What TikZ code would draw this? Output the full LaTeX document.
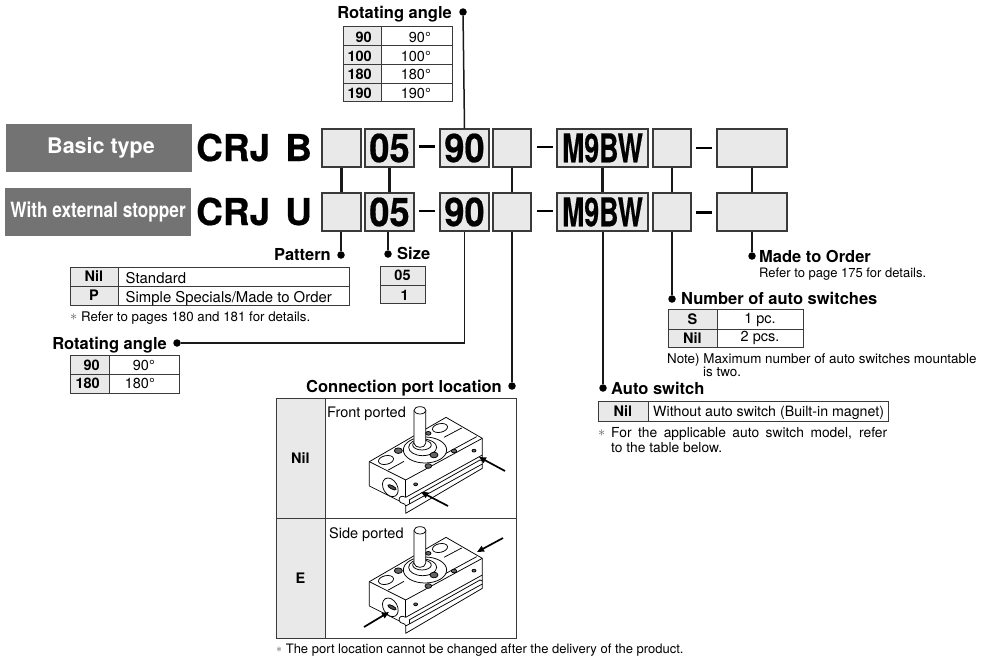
\documentclass[tikz,border=0pt]{standalone}
\usepackage{fontspec}
\setmainfont{TeX Gyre Heros}
\newfontfamily\heavyfont[FakeBold=0.5]{TeX Gyre Heros Bold}
\usetikzlibrary{arrows.meta}
\definecolor{cellgray}{HTML}{E8E9E8}
\definecolor{edgegray}{HTML}{3A3A3A}
\definecolor{bandgray}{HTML}{737373}
\newcommand{\fs}[1]{\fontsize{#1}{#1}\selectfont}
\newcommand{\tcell}[7]{\pgfmathsetmacro\cellx{(#2+#4)/2}\pgfmathsetmacro\celly{(#3+#5)/2}\pgfmathsetmacro\cellw{#4-#2}\pgfmathsetmacro\cellh{#5-#3}\node[#6,minimum width=\cellw pt,minimum height=\cellh pt] (#1) at (\cellx,\celly) {#7};}
\newcommand{\astr}{{\color{black!65}\raisebox{0.3pt}{$\ast$}}}
\newcommand{\tallc}[1]{\scalebox{0.98}[1.07]{#1}}
\newcommand{\tallm}[1]{\scalebox{0.72}[1.07]{#1}}
\newcommand{\actuator}[1]{%
\begin{scope}[shift={#1},x=0.3333pt,y=-0.3333pt,line width=0.75pt,line join=round,draw=black]
 % body silhouette
 \fill[white] (28,185) -- (258,52) -- (367,115) -- (367,205) -- (137,340) -- (137,320) -- (118,305) -- (28,258) -- cycle;
 \draw (28,258) -- (28,185) -- (258,52) -- (367,115) -- (367,205) -- (137,340) -- (137,318);
 \draw (28,185) -- (137,240) -- (367,115);
 \draw (28,258) -- (118,303);
 % notch
 \draw (137,292) .. controls (124,284) and (114,292) .. (118,303) .. controls (121,312) and (137,308) .. (137,318);
 \draw (137,240) -- (137,292);
 % right face and rail
 \draw (137,292) -- (367,165);
 \draw (147,300) -- (360,180) -- (367,183);
 \draw (147,300) -- (147,313);
 \draw (137,318) -- (367,192);
 % top plate lines
 \draw (85,210) -- (132,184);
 \draw (252,112) -- (305,84);
 \draw (258,160) -- (350,110);
 % pads
 \draw[fill=white,rotate around={12:(78,180)}] (78,180) ellipse [x radius=23,y radius=13];
 \draw[fill=white,rotate around={12:(240,84)}] (240,84) ellipse [x radius=23,y radius=13];
 % flange
 \draw[fill=white] (195,150) ellipse [x radius=65,y radius=39];
 \draw[fill=white] (188,142) ellipse [x radius=42,y radius=25];
 \draw[fill=white] (186,135) ellipse [x radius=28,y radius=15];
 % shaft
 \draw[fill=white] (162,32) -- (162,130) .. controls (165,146) and (195,146) .. (197,130) -- (197,32) -- cycle;
 \draw[fill=white] (180,31) ellipse [x radius=18,y radius=11];
 % screw holes
 \foreach \hx/\hy/\hr in {115/152/12,222/165/12,205/100/8,205/198/10,282/153/8,342/152/6,167/253/6}{
   \draw[fill=black!60] (\hx,\hy) ellipse [x radius=\hr,y radius=0.7*\hr];
 }
 % port
 \draw[fill=white,rotate around={30:(91,262)}] (91,262) ellipse [x radius=21,y radius=30];
 \draw[fill=black!70,rotate around={-28:(96,262)}] (96,262) ellipse [x radius=14,y radius=5];
\end{scope}}
\tikzset{
 codebox/.style={draw=edgegray,fill=cellgray,line width=1.2pt,inner sep=0pt,minimum height=38pt,font=\fs{37}\heavyfont},
 bandbox/.style={fill=bandgray,text=white,inner sep=0pt,font=\fs{21.5}\bfseries},
 bigtxt/.style={inner sep=0pt,anchor=base west,font=\fs{37}\heavyfont},
 lbl/.style={inner sep=0pt,font=\fs{16.5}\bfseries},
 cellg/.style={draw=edgegray,fill=cellgray,line width=0.9pt,inner sep=0pt,text height=10.5pt,text depth=0pt,font=\fs{14.5}\bfseries},
 cellw/.style={draw=edgegray,fill=white,line width=0.9pt,inner sep=0pt,text height=10.5pt,text depth=0pt,font=\fs{14.5}},
 bcell/.style={inner sep=0pt,font=\fs{14.5}\bfseries},
 rcell/.style={inner sep=0pt,font=\fs{14.5}},
 notetxt/.style={inner sep=0pt,anchor=base west,font=\fs{13.3}},
 link/.style={line width=2.2pt,draw=black!90},
 lead/.style={line width=1.5pt,draw=black!90},
 knob/.style={circle,fill=black,inner sep=0pt,minimum size=7.5pt},
 pointer/.style={line width=1.7pt,-{Triangle[length=7pt,width=6pt]}},
}
\begin{document}
\begin{tikzpicture}[x=1pt,y=-1pt]
\useasboundingbox (0,0) rectangle (988,656);
% bands
\tcell{bandA}{6}{124}{192}{172}{bandbox}{\hspace*{4pt}Basic type}
\tcell{bandB}{5}{188}{191}{236}{bandbox,font=\fs{21}\bfseries}{\scalebox{0.82}[1]{With external stopper}}
% series text
\node[bigtxt] (crjA) at (196,161) {CRJ};
\node[bigtxt] (typeA) at (285,161) {B};
\node[bigtxt] (crjB) at (196,225) {CRJ};
\node[bigtxt] (typeB) at (285,225) {U};
% code boxes
\tcell{a1}{322}{129}{361}{167}{codebox}{}
\tcell{a2}{365}{129}{414}{167}{codebox}{\tallc{05}}
\tcell{a3}{440}{129}{489}{167}{codebox}{\tallc{90}}
\tcell{a4}{493}{129}{531}{167}{codebox}{}
\tcell{a5}{557}{129}{648}{167}{codebox}{\tallm{M9BW}}
\tcell{a6}{653}{129}{691}{167}{codebox}{}
\tcell{a7}{717}{129}{787}{167}{codebox}{}
\tcell{b1}{322}{193}{361}{231}{codebox}{}
\tcell{b2}{365}{193}{414}{231}{codebox}{\tallc{05}}
\tcell{b3}{440}{193}{489}{231}{codebox}{\tallc{90}}
\tcell{b4}{493}{193}{531}{231}{codebox}{}
\tcell{b5}{557}{193}{648}{231}{codebox}{\tallm{M9BW}}
\tcell{b6}{653}{193}{691}{231}{codebox}{}
\tcell{b7}{717}{193}{787}{231}{codebox}{}
% dashes
\coordinate (d1l) at (419,146.5); \coordinate (d1r) at (435,146.5);
\coordinate (d2l) at (537,147); \coordinate (d2r) at (553,147);
\coordinate (d3l) at (696,148); \coordinate (d3r) at (712,148);
\coordinate (e1l) at (419,211); \coordinate (e1r) at (435,211);
\coordinate (e2l) at (537,211); \coordinate (e2r) at (553,211);
\coordinate (e3l) at (696,212.5); \coordinate (e3r) at (712,212.5);
\foreach \p in {d1,d2,d3,e1,e2,e3}{\draw[line width=2.3pt] (\p l) -- (\p r);}
% thick links between rows
\foreach \i in {1,...,7}{ \ifnum\i=3\else \draw[link] (a\i.south) -- (b\i.north); \fi }
% knobs
\node[knob] (kTop) at (463,12) {};
\node[knob] (kPat) at (341,255) {};
\node[knob] (kSize) at (388,254) {};
\node[knob] (kRot) at (177,343) {};
\node[knob] (kPort) at (512,386) {};
\node[knob] (kAuto) at (603,388) {};
\node[knob] (kNum) at (672,299) {};
\node[knob] (kMto) at (752,256) {};
% leaders
\draw[lead] (kTop) -- (a3.north);
\draw[lead] (b1.south -| kPat) -- (kPat);
\draw[lead] (b2.south -| kSize) -- (kSize);
\draw[lead] (b3.south) |- (kRot);
\draw[lead] (b4.south -| kPort) -- (kPort);
\draw[lead] (b5.south -| kAuto) -- (kAuto);
\draw[lead] (b6.south -| kNum) -- (kNum);
\draw[lead] (b7.south -| kMto) -- (kMto);
% top rotating angle
\node[lbl,anchor=base east] (lTop) at (452,18) {Rotating angle};
\tcell{t1a}{343}{26}{381}{45}{cellg}{}
\tcell{t1b}{381}{26}{452}{45}{cellw}{}
\tcell{t2a}{343}{45}{381}{64}{cellg}{}
\tcell{t2b}{381}{45}{452}{64}{cellw}{}
\tcell{t3a}{343}{64}{381}{83}{cellg}{}
\tcell{t3b}{381}{64}{452}{83}{cellw}{}
\tcell{t4a}{343}{83}{381}{101}{cellg}{}
\tcell{t4b}{381}{83}{452}{101}{cellw}{}
\node[bcell,anchor=base east] (v1) at (372,42) {90};
\node[bcell,anchor=base east] (v2) at (372,61) {100};
\node[bcell,anchor=base east] (v3) at (372,79) {180};
\node[bcell,anchor=base east] (v4) at (372,98) {190};
\node[rcell,anchor=base east] (w1) at (431,42) {90°};
\node[rcell,anchor=base east] (w2) at (431,61) {100°};
\node[rcell,anchor=base east] (w3) at (431,79) {180°};
\node[rcell,anchor=base east] (w4) at (431,98) {190°};
% pattern
\node[lbl,anchor=base east] (lPat) at (331,260) {Pattern};
\tcell{p1a}{70}{267}{118}{286}{cellg}{Nil}
\tcell{p1b}{118}{267}{349}{286}{cellw}{}
\tcell{p2a}{70}{286}{118}{305}{cellg}{P}
\tcell{p2b}{118}{286}{349}{305}{cellw}{}
\node[rcell,anchor=base west,font=\fs{14.9}] (pt1) at (125.5,283) {Standard};
\node[rcell,anchor=base west,font=\fs{14.9}] (pt2) at (125.5,302) {Simple Specials/Made to Order};
\node[notetxt] (pn) at (70,321) {\astr\ Refer to pages 180 and 181 for details.};
% size
\node[lbl,anchor=base west] (lSize) at (397,259) {Size};
\tcell{s1}{380}{266}{425}{285}{cellg}{05}
\tcell{s2}{380}{285}{425}{303}{cellg}{}
\node[bcell,anchor=base east] (s2t) at (409,300) {1};
% lower rotating angle
\node[lbl,anchor=base east] (lRot) at (167,349) {Rotating angle};
\tcell{r1a}{70}{355}{109}{374}{cellg}{}
\tcell{r1b}{109}{355}{179}{374}{cellw}{}
\tcell{r2a}{70}{374}{109}{393}{cellg}{}
\tcell{r2b}{109}{374}{179}{393}{cellw}{}
\node[bcell,anchor=base east] (r1t) at (100,370) {90};
\node[bcell,anchor=base east] (r2t) at (100,388) {180};
\node[rcell,anchor=base east] (r1v) at (155,370) {90°};
\node[rcell,anchor=base east] (r2v) at (155,388) {180°};
% connection port
\node[lbl,anchor=base east] (lPort) at (502,392) {Connection port location};
\tcell{c1a}{276}{398}{325}{518}{cellg}{Nil}
\tcell{c1b}{325}{398}{516}{518}{cellw}{}
\tcell{c2a}{276}{518}{325}{638}{cellg}{E}
\tcell{c2b}{325}{518}{516}{638}{cellw}{}
\actuator{(360,400)}
\actuator{(360,520)}
\node[rcell,anchor=base west] (cf) at (327,417) {Front ported};
\node[rcell,anchor=base west] (cs) at (329,538) {Side ported};
\coordinate (ar1s) at (505,471); \coordinate (ar1e) at (479,457);
\coordinate (ar2s) at (448,506); \coordinate (ar2e) at (421,492);
\coordinate (ar3s) at (503,538); \coordinate (ar3e) at (477,552);
\coordinate (ar4s) at (364,627); \coordinate (ar4e) at (389,612);
\draw[pointer] (ar1s) -- (ar1e);
\draw[pointer] (ar2s) -- (ar2e);
\draw[pointer] (ar3s) -- (ar3e);
\draw[pointer] (ar4s) -- (ar4e);
\node[notetxt,font=\fs{13}] (cn) at (276,653) {\astr\ The port location cannot be changed after the delivery of the product.};
% auto switch
\node[lbl,anchor=base west] (lAuto) at (611,394) {Auto switch};
\tcell{as1}{598}{401}{648}{421}{cellg}{Nil}
\tcell{as2}{648}{401}{888}{421}{cellw}{}
\node[rcell,anchor=base west,font=\fs{14.2}] (ast) at (653,416) {Without auto switch (Built-in magnet)};
\node[notetxt] (an0) at (598,437) {\astr};
\node[notetxt,font=\fs{13.8}] (an1) at (611,437) {\makebox[276pt][s]{For the applicable auto switch model, refer}};
\node[notetxt,font=\fs{13.8}] (an2) at (611,452) {to the table below.};
% number
\node[lbl,anchor=base west] (lNum) at (681,304) {Number of auto switches};
\tcell{n1a}{668}{309}{717}{329}{cellg}{S}
\tcell{n1b}{717}{309}{803}{329}{cellw}{}
\tcell{n2a}{668}{329}{717}{347}{cellg}{Nil}
\tcell{n2b}{717}{329}{803}{347}{cellw}{}
\node[rcell,anchor=base] (n1t) at (760,323) {1 pc.};
\node[rcell,anchor=base] (n2t) at (760,341) {2 pcs.};
\node[notetxt,font=\fs{13.4}] (nn1) at (667,363) {Note) Maximum number of auto switches mountable};
\node[notetxt,font=\fs{13.4}] (nn2) at (703,376) {is two.};
% made to order
\node[lbl,anchor=base west] (lMto) at (759,262) {Made to Order};
\node[notetxt,font=\fs{13}] (mn) at (759,277) {Refer to page 175 for details.};
\end{tikzpicture}
\end{document}
